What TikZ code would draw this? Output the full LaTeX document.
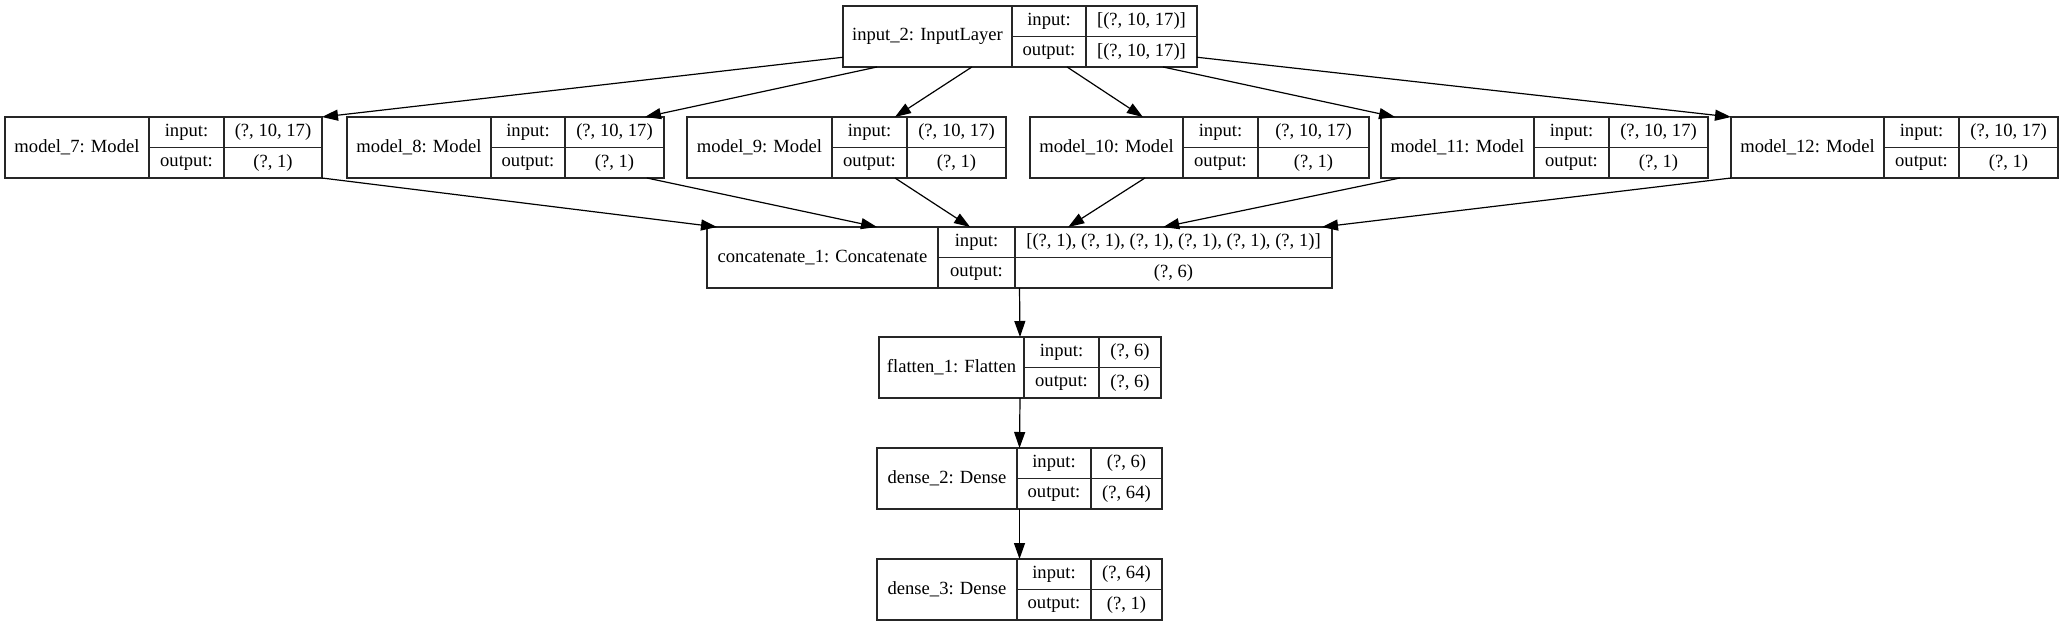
\documentclass[tikz,border=0pt]{standalone}
\usepackage{fontspec}
\setmainfont{Liberation Serif}
\usetikzlibrary{arrows.meta,calc}

% one keras layer record: id, left, divider 1, divider 2, right, top, name, input, output
\newcommand{\layer}[9]{%
  \node[rec, minimum width={#5-#2}] (#1) at ({(#2+#5)/2},{#6+30.5}) {};
  \node[cell, minimum width={#3-#2}, minimum height=61] (#1-name) at ({(#2+#3)/2},{#6+30.5}) {#7};
  \node[cell, minimum width={#4-#3}] (#1-il) at ({(#3+#4)/2},{#6+15.25}) {input:};
  \node[cell, minimum width={#4-#3}] (#1-ol) at ({(#3+#4)/2},{#6+45.75}) {output:};
  \node[cell, minimum width={#5-#4}] (#1-iv) at ({(#4+#5)/2},{#6+15.25}) {#8};
  \node[cell, minimum width={#5-#4}] (#1-ov) at ({(#4+#5)/2},{#6+45.75}) {#9};
}

\begin{document}
\begin{tikzpicture}[x=1pt,y=-1pt,
  cell/.style={draw=black!85,line width=1.3,inner sep=0pt,outer sep=0pt,minimum height=30.5,
    font=\fontsize{18.6}{22}\selectfont},
  rec/.style={inner sep=0pt,outer sep=0pt,minimum height=61},
  edge/.style={line width=1.2,-{Triangle[length=16pt,width=11pt]}}]
  \useasboundingbox (0,0) rectangle (2063,627);

  \layer{in}{843}{1012}{1086}{1197}{6}{input\_2: InputLayer}{[(?, 10, 17)]}{[(?, 10, 17)]}
  \layer{m7}{5}{149}{224}{322}{117}{model\_7: Model}{(?, 10, 17)}{(?, 1)}
  \layer{m8}{347}{491}{565}{664}{117}{model\_8: Model}{(?, 10, 17)}{(?, 1)}
  \layer{m9}{687}{832}{907}{1006}{117}{model\_9: Model}{(?, 10, 17)}{(?, 1)}
  \layer{m10}{1030}{1183}{1258}{1369}{117}{model\_10: Model}{(?, 10, 17)}{(?, 1)}
  \layer{m11}{1381}{1534}{1609}{1708}{117}{model\_11: Model}{(?, 10, 17)}{(?, 1)}
  \layer{m12}{1731}{1884}{1959}{2058}{117}{model\_12: Model}{(?, 10, 17)}{(?, 1)}
  \layer{cat}{707}{938}{1015}{1332}{227}{concatenate\_1: Concatenate}{[(?, 1), (?, 1), (?, 1), (?, 1), (?, 1), (?, 1)]}{(?, 6)}
  \layer{flat}{879}{1024}{1099}{1161}{337}{flatten\_1: Flatten}{(?, 6)}{(?, 6)}
  \layer{d2}{877}{1017}{1091}{1162}{448}{dense\_2: Dense}{(?, 6)}{(?, 64)}
  \layer{d3}{877}{1017}{1091}{1162}{559}{dense\_3: Dense}{(?, 64)}{(?, 1)}

  % input fan out
  \draw[edge] ($(in.north west)!0.84!(in.south west)$) -- (m7.north east);
  \draw[edge] ($(in.south west)!0.096!(in.south east)$) -- ($(m8.north west)!0.94!(m8.north east)$);
  \draw[edge] ($(in.south west)!0.364!(in.south east)$) -- ($(m9.north west)!0.652!(m9.north east)$);
  \draw[edge] ($(in.south west)!0.633!(in.south east)$) -- ($(m10.north west)!0.333!(m10.north east)$);
  \draw[edge] ($(in.south west)!0.904!(in.south east)$) -- ($(m11.north west)!0.043!(m11.north east)$);
  \draw[edge] ($(in.north east)!0.84!(in.south east)$) -- (m12.north west);

  % fan in
  \draw[edge] (m7.south east) -- ($(cat.north west)!0.016!(cat.north east)$);
  \draw[edge] ($(m8.south west)!0.946!(m8.south east)$) -- ($(cat.north west)!0.272!(cat.north east)$);
  \draw[edge] ($(m9.south west)!0.652!(m9.south east)$) -- ($(cat.north west)!0.421!(cat.north east)$);
  \draw[edge] ($(m10.south west)!0.339!(m10.south east)$) -- ($(cat.north west)!0.578!(cat.north east)$);
  \draw[edge] ($(m11.south west)!0.058!(m11.south east)$) -- ($(cat.north west)!0.73!(cat.north east)$);
  \draw[edge] (m12.south west) -- ($(cat.north west)!0.984!(cat.north east)$);

  \draw[edge] (cat.south) -- (flat.north);
  \draw[edge] (flat.south) -- (d2.north);
  \draw[edge] (d2.south) -- (d3.north);
\end{tikzpicture}
\end{document}
